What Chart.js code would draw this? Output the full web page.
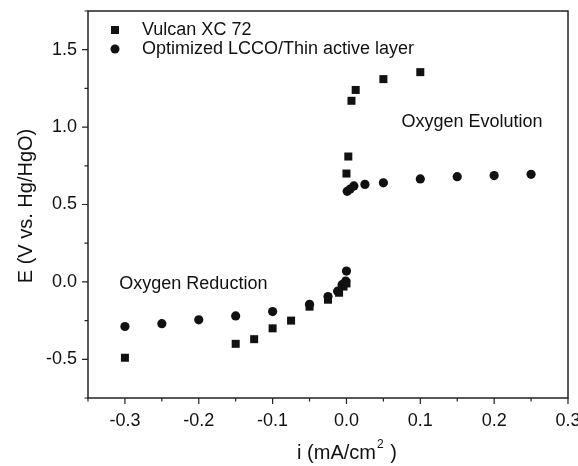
<!DOCTYPE html>
<html>
<head>
<meta charset="utf-8">
<script src="https://cdn.jsdelivr.net/npm/chart.js@4.4.1/dist/chart.umd.min.js"></script>
<style>
  html, body { margin: 0; padding: 0; background: #fff; }
  #wrap { width: 578px; height: 466px; }
</style>
</head>
<body>
<div id="wrap"><canvas id="c" width="578" height="466"></canvas></div>
<script>
// ---- data ----
const seriesNames = ['Vulcan XC 72', 'Optimized LCCO/Thin active layer'];
const vulcanI = [-0.3, -0.15, -0.125, -0.1, -0.075, -0.05, -0.025, -0.01, -0.004, 0, 0, 0.0025, 0.0068, 0.0125, 0.05, 0.1];
const vulcanE = [-0.49, -0.40, -0.37, -0.30, -0.25, -0.16, -0.115, -0.07, -0.03, -0.01, 0.70, 0.81, 1.17, 1.24, 1.31, 1.355];
const lccoI = [-0.3, -0.25, -0.2, -0.15, -0.1, -0.05, -0.025, -0.012, -0.006, -0.001, 0, 0.001, 0.005, 0.01, 0.025, 0.05, 0.1, 0.15, 0.2, 0.25];
const lccoE = [-0.288, -0.27, -0.245, -0.22, -0.192, -0.145, -0.095, -0.06, -0.018, 0.005, 0.07, 0.585, 0.60, 0.62, 0.63, 0.64, 0.665, 0.68, 0.687, 0.695];
const xTickValues = [-0.3, -0.2, -0.1, 0.0, 0.1, 0.2, 0.3];
const yTickValues = [-0.5, 0.0, 0.5, 1.0, 1.5];
const xTitle = ['i (mA/cm', '2', ' )'];
const yTitle = 'E (V vs. Hg/HgO)';
const annotations = [
  { text: 'Oxygen Evolution', x: 0.0745, y: 1.032 },
  { text: 'Oxygen Reduction', x: -0.3076, y: -0.016 }
];

const FONT = '"Liberation Sans", Arial, Helvetica, sans-serif';
const INK = '#111';

function toPts(xs, ys) { return xs.map((x, i) => ({ x: x, y: ys[i] })); }
function fmt(v) { const s = v.toFixed(1); return s === '-0.0' ? '0.0' : s; }
function noPad(s) { s.paddingTop = 0; s.paddingBottom = 0; s.paddingLeft = 0; s.paddingRight = 0; }

const framePlugin = {
  id: 'frame',
  afterDraw(chart) {
    const ctx = chart.ctx, a = chart.chartArea;
    const xs = chart.scales.x, ys = chart.scales.y;
    ctx.save();
    ctx.strokeStyle = '#222';
    ctx.lineWidth = 1.5;
    ctx.strokeRect(a.left, a.top, a.right - a.left, a.bottom - a.top);
    // ticks (major + minor), outside
    ctx.lineWidth = 1.2;
    ctx.beginPath();
    for (let k = -7; k <= 6; k++) {
      const v = k * 0.05;
      const px = xs.getPixelForValue(v);
      const major = (k % 2 === 0);
      ctx.moveTo(px, a.bottom);
      ctx.lineTo(px, a.bottom + (major ? 6 : 3.5));
    }
    for (let k = -3; k <= 7; k++) {
      const v = k * 0.25;
      const py = ys.getPixelForValue(v);
      const major = (k % 2 === 0);
      ctx.moveTo(a.left, py);
      ctx.lineTo(a.left - (major ? 6 : 3.5), py);
    }
    ctx.stroke();

    // legend
    ctx.fillStyle = INK;
    ctx.font = '18px ' + FONT;
    ctx.textBaseline = 'middle';
    ctx.textAlign = 'left';
    ctx.fillRect(111, 26, 8, 8);
    ctx.fillText(seriesNames[0], 142, 30);
    ctx.beginPath();
    ctx.arc(115, 49, 4.5, 0, Math.PI * 2);
    ctx.fill();
    ctx.fillText(seriesNames[1], 142, 49);

    // annotations
    annotations.forEach(an => {
      ctx.fillText(an.text, xs.getPixelForValue(an.x), ys.getPixelForValue(an.y));
    });

    // x title with superscript
    const big = '20px ' + FONT, small = '12px ' + FONT;
    ctx.font = big;
    const w0 = ctx.measureText(xTitle[0]).width;
    ctx.font = small;
    const w1 = ctx.measureText(xTitle[1]).width;
    ctx.font = big;
    const w2 = ctx.measureText(xTitle[2]).width;
    const total = w0 + w1 + w2 + 2;
    let sx = 347 - total / 2;
    const ty = 453;
    ctx.fillText(xTitle[0], sx, ty);
    ctx.font = small;
    ctx.fillText(xTitle[1], sx + w0 + 1, ty - 8);
    ctx.font = big;
    ctx.fillText(xTitle[2], sx + w0 + w1 + 2, ty);

    // y title
    ctx.save();
    ctx.translate(26, 206);
    ctx.rotate(-Math.PI / 2);
    ctx.textAlign = 'center';
    ctx.font = big;
    ctx.fillText(yTitle, 0, 0);
    ctx.restore();
    ctx.restore();
  }
};

new Chart(document.getElementById('c'), {
  type: 'scatter',
  data: {
    datasets: [
      {
        label: seriesNames[0],
        data: toPts(vulcanI, vulcanE),
        pointStyle: 'rect',
        pointRadius: 5.66,
        pointBorderWidth: 0,
        backgroundColor: INK,
        borderColor: INK
      },
      {
        label: seriesNames[1],
        data: toPts(lccoI, lccoE),
        pointStyle: 'circle',
        pointRadius: 4.6,
        pointBorderWidth: 0,
        backgroundColor: INK,
        borderColor: INK
      }
    ]
  },
  options: {
    responsive: false,
    devicePixelRatio: 1,
    animation: false,
    layout: { padding: { left: 0, right: 10, top: 11, bottom: 0 } },
    plugins: { legend: { display: false }, tooltip: { enabled: false } },
    scales: {
      x: {
        type: 'linear',
        min: -0.35, max: 0.3,
        afterFit(s) { s.height = 68; noPad(s); },
        afterBuildTicks(s) { s.ticks = xTickValues.map(v => ({ value: v })); },
        grid: { display: false, drawTicks: false },
        border: { display: false },
        ticks: {
          font: { family: FONT, size: 18 },
          color: INK,
          padding: 12,
          maxRotation: 0,
          autoSkip: false,
          callback: v => fmt(v)
        }
      },
      y: {
        type: 'linear',
        min: -0.75, max: 1.75,
        afterFit(s) { s.width = 88; noPad(s); },
        afterBuildTicks(s) { s.ticks = yTickValues.map(v => ({ value: v })); },
        grid: { display: false, drawTicks: false },
        border: { display: false },
        ticks: {
          font: { family: FONT, size: 18 },
          color: INK,
          padding: 11,
          autoSkip: false,
          callback: v => fmt(v)
        }
      }
    }
  },
  plugins: [framePlugin]
});
</script>
</body>
</html>
